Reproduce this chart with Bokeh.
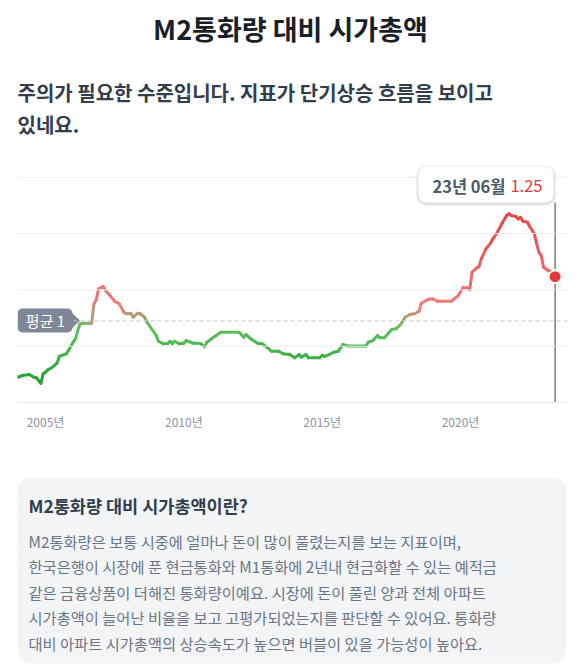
from bokeh.plotting import figure
from bokeh.layouts import column
from bokeh.models import Range1d, Label, BoxAnnotation, FixedTicker, Span
from bokeh.embed import file_html
from bokeh.resources import INLINE

# ---------------- data ----------------
title_text = "M2통화량 대비 시가총액"
subtitle_lines = ["주의가 필요한 수준입니다. 지표가 단기상승 흐름을 보이고", "있네요."]
info_title = "M2통화량 대비 시가총액이란?"
info_lines = [
    "M2통화량은 보통 시중에 얼마나 돈이 많이 풀렸는지를 보는 지표이며,",
    "한국은행이 시장에 푼 현금통화와 M1통화에 2년내 현금화할 수 있는 예적금",
    "같은 금융상품이 더해진 통화량이예요. 시장에 돈이 풀린 양과 전체 아파트",
    "시가총액이 늘어난 비율을 보고 고평가되었는지를 판단할 수 있어요. 통화량",
    "대비 아파트 시가총액의 상승속도가 높으면 버블이 있을 가능성이 높아요.",
]
months = [
    "2004-01", "2004-03", "2004-06", "2004-08", "2004-09", "2004-11", "2004-12",
    "2005-01", "2005-02", "2005-04", "2005-06", "2005-07", "2005-09", "2005-10", "2005-11",
    "2006-01", "2006-02", "2006-03", "2006-04", "2006-05", "2006-09", "2006-10", "2006-11", "2006-12",
    "2007-02", "2007-03", "2007-05", "2007-07", "2007-09", "2007-11", "2007-12",
    "2008-02", "2008-03", "2008-05", "2008-06", "2008-08", "2008-09", "2008-11",
    "2009-01", "2009-02", "2009-04", "2009-06", "2009-07", "2009-08", "2009-09", "2009-11",
    "2010-01", "2010-02", "2010-05", "2010-08", "2010-10", "2010-11",
    "2011-01", "2011-03", "2011-05",
    "2012-01", "2012-03", "2012-04", "2012-06", "2012-09", "2012-11",
    "2013-01", "2013-03", "2013-06", "2013-08", "2013-11",
    "2014-01", "2014-03", "2014-04", "2014-06", "2014-07", "2014-12",
    "2015-01", "2015-02", "2015-04", "2015-06", "2015-08", "2015-10", "2015-12",
    "2016-08", "2016-09", "2016-11",
    "2017-01", "2017-02", "2017-04", "2017-07", "2017-09", "2017-11",
    "2018-01", "2018-03", "2018-05", "2018-07", "2018-08", "2018-11",
    "2019-01", "2019-03", "2019-09", "2019-10", "2019-12",
    "2020-02", "2020-04", "2020-05", "2020-06", "2020-08", "2020-09", "2020-10", "2020-12",
    "2021-02", "2021-03", "2021-05", "2021-07", "2021-09", "2021-10", "2021-11",
    "2022-01", "2022-02", "2022-03", "2022-04", "2022-06", "2022-07", "2022-09", "2022-10", "2022-11", "2022-12",
    "2023-01", "2023-03", "2023-04", "2023-06",
]
values = [
    0.680, 0.690, 0.696, 0.680, 0.677, 0.646, 0.700,
    0.709, 0.722, 0.737, 0.760, 0.798, 0.809, 0.813, 0.832,
    0.879, 0.898, 0.945, 0.983, 0.986, 0.986, 1.096, 1.119, 1.181,
    1.194, 1.172, 1.143, 1.111, 1.096, 1.049, 1.040,
    1.043, 1.020, 1.043, 1.040, 1.020, 0.992, 0.955,
    0.917, 0.884, 0.870, 0.870, 0.884, 0.870, 0.884, 0.870,
    0.873, 0.888, 0.873, 0.873, 0.854, 0.879,
    0.898, 0.917, 0.935,
    0.935, 0.907, 0.922, 0.898, 0.873, 0.870,
    0.850, 0.828, 0.828, 0.813, 0.809,
    0.790, 0.809, 0.794, 0.809, 0.790, 0.790,
    0.805, 0.798, 0.809, 0.822, 0.828, 0.866, 0.858,
    0.858, 0.879, 0.888,
    0.917, 0.904, 0.904, 0.949, 0.955, 0.979,
    1.020, 1.036, 1.040, 1.054, 1.100, 1.122,
    1.124, 1.111, 1.111, 1.122, 1.143,
    1.187, 1.187, 1.176, 1.276, 1.300, 1.308, 1.351, 1.408,
    1.440, 1.465, 1.502, 1.553, 1.597, 1.607, 1.597,
    1.591, 1.578, 1.587, 1.565, 1.559, 1.535, 1.493, 1.437, 1.389, 1.370,
    1.304, 1.285, 1.281, 1.250,
]
average = 1.0
average_label = "평균 1"
tick_years = [2005, 2010, 2015, 2020]
tooltip_date = "23년 06월"
tooltip_value = "1.25"

FONT = "Noto Sans CJK KR"
W = 580
FL, FR = 17, 567   # shared horizontal frame (column aligns frames)


def page_fig(height):
    f = figure(width=W, height=height, x_range=Range1d(FL, FR), y_range=Range1d(0, height),
               min_border_left=FL, min_border_right=W - FR, min_border_top=0,
               min_border_bottom=0, outline_line_color=None, x_axis_location=None,
               y_axis_location=None, toolbar_location=None, output_backend="svg")
    f.grid.visible = False
    return f


# ---------------- header (page y 0..160) ----------------
HH = 160
header = page_fig(HH)


def hy(abs_y):
    return HH - abs_y


header.add_layout(Label(x=290, y=hy(28), text=title_text, text_font=FONT,
                        text_font_size="27px", text_font_style="bold", text_color="#191f28",
                        text_align="center", text_baseline="middle"))
for i, line in enumerate(subtitle_lines):
    header.add_layout(Label(x=17, y=hy(92 + 32 * i), text=line, text_font=FONT,
                            text_font_size="20px", text_font_style="bold", text_color="#333d4b",
                            text_align="left", text_baseline="middle"))

# ---------------- chart (page y 160..435) ----------------
FT, FB = 165, 402
x0, x1 = 2003.988, 2003.988 + (FR - FL) / 27.67
y0 = 0.537
y1 = y0 + (FB - FT) / 176.4


def X(px):
    return x0 + (px - FL) / (FR - FL) * (x1 - x0)


def Y(py):
    return y1 - (py - FT) / (FB - FT) * (y1 - y0)


chart = figure(width=W, height=275, x_range=Range1d(x0, x1), y_range=Range1d(y0, y1),
               min_border_left=FL, min_border_right=W - FR, min_border_top=FT - 160,
               min_border_bottom=435 - FB, outline_line_color=None, y_axis_location=None,
               toolbar_location=None, output_backend="svg")
chart.xgrid.visible = False
chart.ygrid.visible = False

for k in range(5):
    chart.add_layout(Span(location=Y(FB - k * 56.3), dimension="width",
                          line_color="#ebedf0", line_width=1))

ax = chart.xaxis[0]
ax.ticker = FixedTicker(ticks=tick_years)
ax.major_label_overrides = {yr: f"{yr}년" for yr in tick_years}
ax.axis_line_color = "#e5e8eb"
ax.major_tick_line_color = None
ax.minor_tick_line_color = None
ax.major_label_text_color = "#8b95a1"
ax.major_label_text_font = FONT
ax.major_label_text_font_size = "12px"
ax.major_label_standoff = 4

chart.add_layout(Span(location=average, dimension="width", line_color="#c5cad3",
                      line_width=1, line_dash="4 3"))

xs = [int(m[:4]) + (int(m[5:]) - 1) / 12 for m in months]


def lerp(a, b, t):
    return tuple(a[i] + (b[i] - a[i]) * t for i in range(3))


def clamp(t):
    return max(0.0, min(1.0, t))


def color_for(v):
    g = lerp((34, 160, 52), (92, 192, 92), clamp((v - 0.65) / 0.30))
    r = lerp((240, 128, 128), (229, 70, 70), clamp((v - 1.05) / 0.55))
    w = clamp((v - 0.96) / 0.12)
    c = lerp(g, r, w)
    return "#%02x%02x%02x" % tuple(int(round(ch)) for ch in c)


seg_colors = [color_for((values[i] + values[i + 1]) / 2) for i in range(len(values) - 1)]
chart.segment(x0=xs[:-1], y0=values[:-1], x1=xs[1:], y1=values[1:], line_color=seg_colors,
              line_width=3, line_cap="round")

# average label
chart.add_layout(BoxAnnotation(left=X(17), right=X(72), top=Y(308), bottom=Y(332),
                               fill_color="#7f8696", fill_alpha=1, line_color=None,
                               border_radius=5))
chart.patch(x=[X(71), X(79.5), X(71)], y=[Y(312), Y(320), Y(328)], fill_color="#7f8696",
            line_color=None)
chart.add_layout(Label(x=X(45), y=Y(320), text=average_label, text_font=FONT,
                       text_font_size="15px", text_color="white",
                       text_align="center", text_baseline="middle"))

# vertical marker line and tooltip
xl, vl = xs[-1], values[-1]
chart.segment(x0=[xl], y0=[Y(202)], x1=[xl], y1=[y0], line_color="#333d4b", line_width=1)
for d, a in [(3, 0.03), (2, 0.04), (1, 0.05)]:
    chart.add_layout(BoxAnnotation(left=X(418 - d), right=X(553 + d), top=Y(166 - d + 1),
                                   bottom=Y(202 + d + 1), fill_color="black", fill_alpha=a,
                                   line_color=None, border_radius=8 + d))
chart.add_layout(BoxAnnotation(left=X(418), right=X(553), top=Y(166), bottom=Y(202),
                               fill_color="white", fill_alpha=1, line_color=None,
                               border_radius=8))
chart.add_layout(Label(x=X(505), y=Y(185), text=tooltip_date, text_font=FONT,
                       text_font_size="16.5px", text_font_style="bold", text_color="#4e5968",
                       text_align="right", text_baseline="middle"))
chart.add_layout(Label(x=X(542), y=Y(185), text=tooltip_value, text_font=FONT,
                       text_font_size="16.5px", text_color="#e5383b",
                       text_align="right", text_baseline="middle"))

chart.scatter(x=[xl], y=[vl], size=16, fill_color="black", fill_alpha=0.08, line_color=None)
chart.scatter(x=[xl], y=[vl], size=13, fill_color="#e53935", line_color="white", line_width=2)

# ---------------- info box (page y 435..672) ----------------
IH = 237
info = page_fig(IH)


def iy(abs_y):
    return IH - (abs_y - 435)


info.add_layout(BoxAnnotation(left=17, right=566, top=iy(477), bottom=iy(663),
                              fill_color="#f2f4f6", fill_alpha=1, line_color=None,
                              border_radius=14))
info.add_layout(Label(x=28, y=iy(505), text=info_title, text_font=FONT,
                      text_font_size="17.5px", text_font_style="bold", text_color="#333d4b",
                      text_align="left", text_baseline="middle"))
for i, line in enumerate(info_lines):
    info.add_layout(Label(x=28, y=iy(540 + 25.5 * i), text=line, text_font=FONT,
                          text_font_size="15.3px", text_color="#6b7684",
                          text_align="left", text_baseline="middle"))

layout = column(header, chart, info, spacing=0)
open("out.html", "w").write(file_html(layout, INLINE))
